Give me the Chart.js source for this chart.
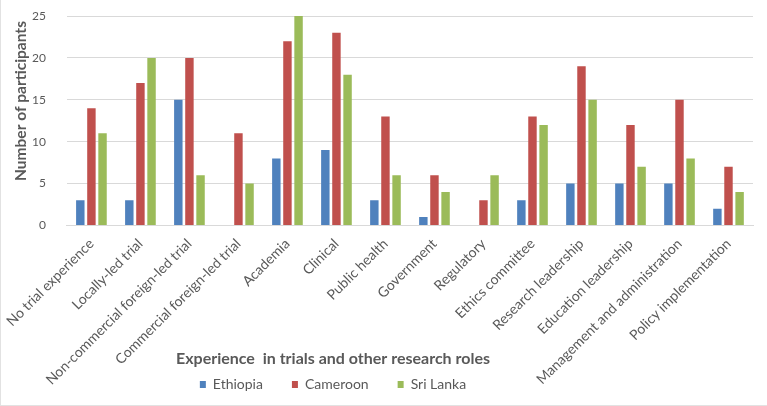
<!DOCTYPE html>
<html>
<head>
<meta charset="utf-8">
<script src="https://cdn.jsdelivr.net/npm/chart.js@4"></script>
<style>
    body { margin: 0; background: #fff; }
    #wrap { width: 767px; height: 406px; box-sizing: border-box; border-left: 1px solid #e2e2e2; border-bottom: 1px solid #e2e2e2; }
    canvas { display: block; }
</style>
</head>
<body>
<div id="wrap"><canvas id="rolesChart" width="766" height="405"></canvas></div>
<script>
// Categories and counts
const categories = [
    'No trial experience',
    'Locally-led trial',
    'Non-commercial foreign-led trial',
    'Commercial foreign-led trial',
    'Academia',
    'Clinical',
    'Public health',
    'Government',
    'Regulatory',
    'Ethics committee',
    'Research leadership',
    'Education leadership',
    'Management and administration',
    'Policy implementation'
];
const ethiopia  = [3, 3, 15, 0, 8, 9, 3, 1, 0, 3, 5, 5, 5, 2];
const cameroon  = [14, 17, 20, 11, 22, 23, 13, 6, 3, 13, 19, 12, 15, 7];
const sriLanka  = [11, 20, 6, 5, 25, 18, 6, 4, 6, 12, 15, 7, 8, 4];
const yTicks = [0, 5, 10, 15, 20, 25];

const colors = {
    blue: '#4F81BD',
    red: '#C0504D',
    green: '#9BBB59',
    text: '#595959',
    grid: '#d9d9d9'
};

const FONT = 'Lato, "Liberation Sans", sans-serif';
const noPadding = () => ({ left: 0, top: 0, right: 0, bottom: 0 });

// y title drawn by hand so it can sit a bit above centre like the original
const yTitle = {
    id: 'yTitle',
    afterDraw(chart) {
        const ctx = chart.ctx;
        ctx.save();
        ctx.translate(20, 101);
        ctx.rotate(-Math.PI / 2);
        ctx.font = 'bold 15.5px ' + FONT;
        ctx.fillStyle = colors.text;
        ctx.textAlign = 'center';
        ctx.textBaseline = 'middle';
        ctx.fillText('Number of participants', 0, 0);
        ctx.restore();
    }
};

// move the legend (with its title) to where the original has it,
// and let the slanted x labels run past the x scale box
const legendPlace = {
    id: 'legendPlace',
    afterLayout(chart) {
        const lg = chart.legend;
        const w = lg.right - lg.left, h = lg.bottom - lg.top;
        lg.left = 332 - w / 2;
        lg.right = lg.left + w;
        lg.top = 351;
        lg.bottom = lg.top + h;
        chart.scales.x.bottom = chart.height;
    }
};

const bar = (label, data, color) => ({
    label, data,
    backgroundColor: color,
    borderWidth: 0,
    categoryPercentage: 0.68,
    barPercentage: 0.76
});

new Chart(document.getElementById('rolesChart'), {
    type: 'bar',
    data: {
        labels: categories,
        datasets: [
            bar('Ethiopia', ethiopia, colors.blue),
            bar('Cameroon', cameroon, colors.red),
            bar('Sri Lanka', sriLanka, colors.green)
        ]
    },
    options: {
        responsive: false,
        animation: false,
        layout: { padding: { left: 10, right: 14, top: 16, bottom: 0 } },
        scales: {
            x: {
                grid: { display: false, drawTicks: false },
                border: { color: colors.grid },
                ticks: {
                    color: colors.text,
                    font: { family: FONT, size: 14 },
                    minRotation: 45,
                    maxRotation: 45,
                    autoSkip: false,
                    padding: 10
                },
                afterFit(scale) {
                    scale.height = 129;
                    scale.getPadding = noPadding;
                }
            },
            y: {
                min: 0,
                max: 25,
                afterBuildTicks(scale) { scale.ticks = yTicks.map(v => ({ value: v })); },
                grid: { color: colors.grid, drawTicks: false },
                border: { display: false },
                ticks: {
                    color: colors.text,
                    font: { family: FONT, size: 12 },
                    padding: 21
                },
                afterFit(scale) { scale.getPadding = noPadding; }
            }
        },
        plugins: {
            legend: {
                position: 'bottom',
                title: {
                    display: true,
                    text: 'Experience  in trials and other research roles',
                    color: colors.text,
                    font: { family: FONT, size: 16, weight: 'bold' },
                    padding: { top: 0, bottom: -21.7 }
                },
                labels: {
                    color: colors.text,
                    font: { family: FONT, size: 14 },
                    boxWidth: 6,
                    boxHeight: 7,
                    padding: 29
                }
            },
            tooltip: { enabled: false }
        }
    },
    plugins: [yTitle, legendPlace]
});
</script>
</body>
</html>
